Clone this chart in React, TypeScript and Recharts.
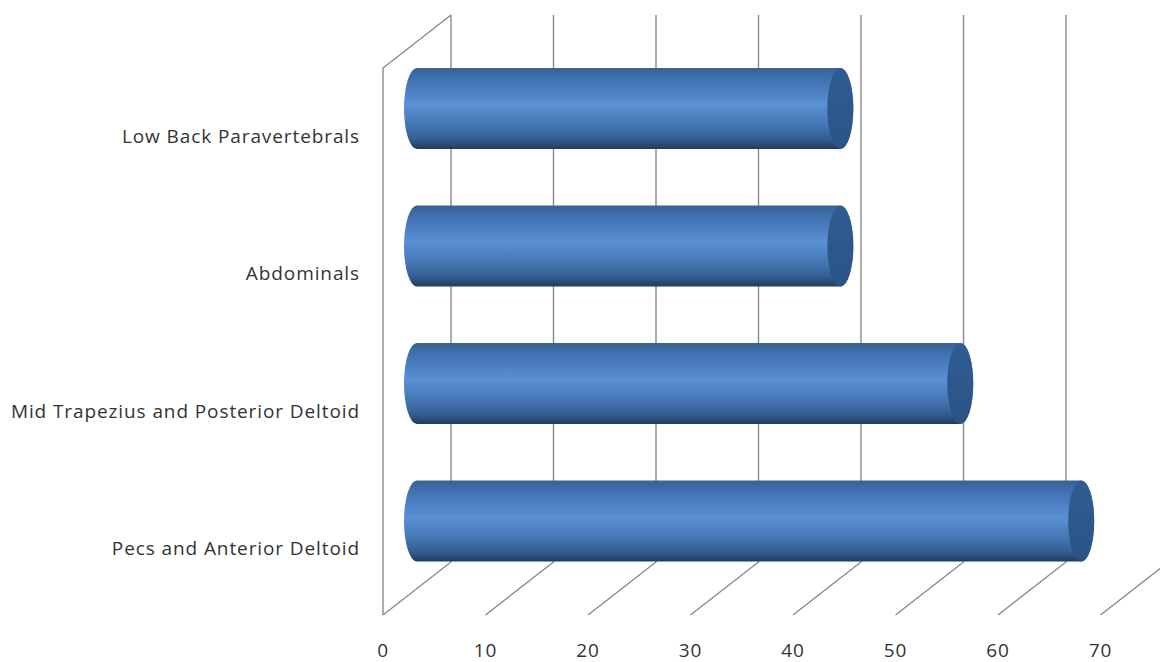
import React from 'react';
import { BarChart, Bar, XAxis, YAxis, CartesianGrid } from 'recharts';

const muscleGroups = [
  'Low Back Paravertebrals',
  'Abdominals',
  'Mid Trapezius and Posterior Deltoid',
  'Pecs and Anterior Deltoid',
];
const percentValues = [41.3, 41.3, 53, 64.8];
const valueTicks = [0, 10, 20, 30, 40, 50, 60, 70];

const chartData = muscleGroups.map((name, i) => ({ name, value: percentValues[i] }));

// Fake 3D box: the plot area sits at mid depth, the wall and floor are offset from it
const DEPTH_X = 34;
const PLOT_LEFT = 417;
const PLOT_RIGHT = 1134.5;
const PLOT_TOP = 40;
const PLOT_BOTTOM = 590;
const WALL_TOP = 15;
const WALL_FRONT_TOP = 68;
const FLOOR_BACK = 562;
const FLOOR_FRONT = 615;
const CAP_RX = 13;
const LINE = '#8a8a8a';
const FONT = "'Open Sans', sans-serif";

// Every vertical grid line becomes a floor diagonal plus a back wall line
const WallLine = ({ x1 }: any) => {
  const frontX = x1 - DEPTH_X;
  const backX = x1 + DEPTH_X;
  const isFirst = Math.abs(x1 - PLOT_LEFT) < 1;
  return (
    <g key={x1}>
      <polyline
        points={`${frontX},${FLOOR_FRONT} ${backX},${FLOOR_BACK} ${backX},${WALL_TOP}`}
        fill="none"
        stroke={LINE}
        strokeWidth={1.4}
      />
      {isFirst && (
        <polyline
          points={`${frontX},${FLOOR_FRONT} ${frontX},${WALL_FRONT_TOP} ${backX},${WALL_TOP}`}
          fill="none"
          stroke={LINE}
          strokeWidth={1.4}
        />
      )}
    </g>
  );
};

const ValueTick = ({ x, payload }: any) => (
  <text x={x - DEPTH_X} y={656.5} textAnchor="middle" fontFamily={FONT} fontSize={19} letterSpacing={0.8} fill="#333">
    {payload.value}
  </text>
);

const GroupTick = ({ y, payload }: any) => (
  <text x={360} y={y + 34} textAnchor="end" fontFamily={FONT} fontSize={19} letterSpacing={0.9} fill="#333">
    {payload.value}
  </text>
);

const Cylinder = ({ x, y, width, height }: any) => {
  const ry = height / 2;
  const right = x + width;
  const body = `M${x},${y} L${right},${y} A${CAP_RX},${ry} 0 0 1 ${right},${y + height} L${x},${y + height} A${CAP_RX},${ry} 0 0 1 ${x},${y} Z`;
  return (
    <g>
      <path d={body} fill="url(#cylinderBody)" />
      <ellipse cx={right} cy={y + ry} rx={CAP_RX} ry={ry} fill="url(#cylinderCap)" />
    </g>
  );
};

export default function App() {
  return (
    <div style={{ position: 'absolute', left: 0, top: 0, width: 1160, height: 662, background: '#fff', overflow: 'hidden' }}>
      <BarChart
        width={1160}
        height={662}
        data={chartData}
        layout="vertical"
        margin={{ top: PLOT_TOP, bottom: 0, left: 0, right: 1160 - PLOT_RIGHT }}
        barSize={81}
      >
        <defs>
          <linearGradient id="cylinderBody" x1="0" y1="0" x2="0" y2="1">
            <stop offset="0" stopColor="#3a6190" />
            <stop offset="0.12" stopColor="#3f6fae" />
            <stop offset="0.45" stopColor="#5a90d6" />
            <stop offset="0.7" stopColor="#4577b4" />
            <stop offset="0.88" stopColor="#335e92" />
            <stop offset="1" stopColor="#213a5c" />
          </linearGradient>
          <linearGradient id="cylinderCap" x1="0" y1="0" x2="0" y2="1">
            <stop offset="0" stopColor="#2f5c92" />
            <stop offset="1" stopColor="#2a5486" />
          </linearGradient>
        </defs>
        <CartesianGrid horizontal={false} vertical={(props: any) => <WallLine key={props.x1} {...props} />} />
        <XAxis
          type="number"
          domain={[0, 70]}
          ticks={valueTicks}
          orientation="bottom"
          axisLine={false}
          tickLine={false}
          tick={<ValueTick />}
          height={662 - PLOT_BOTTOM}
          interval={0}
        />
        <YAxis
          type="category"
          dataKey="name"
          width={PLOT_LEFT}
          axisLine={false}
          tickLine={false}
          tick={<GroupTick />}
          interval={0}
        />
        <Bar dataKey="value" shape={<Cylinder />} isAnimationActive={false} />
      </BarChart>
    </div>
  );
}
